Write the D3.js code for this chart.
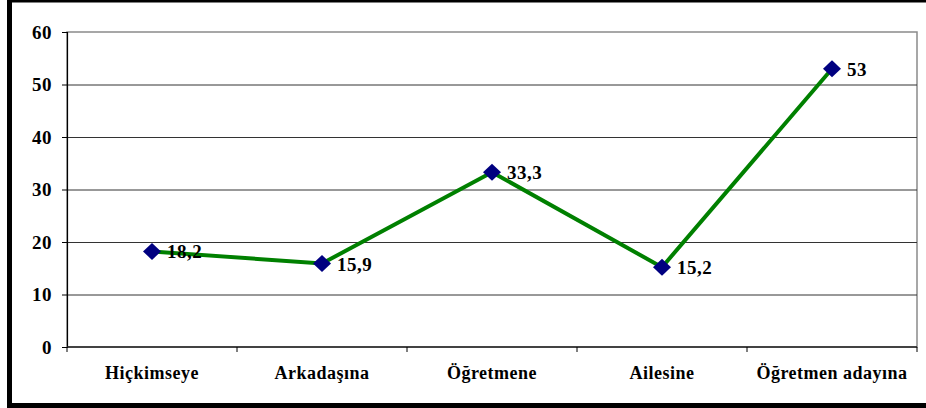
<!DOCTYPE html>
<html lang="tr">
<head>
  <meta charset="UTF-8">
  <title>Line Chart</title>
  <script src="https://d3js.org/d3.v7.min.js"></script>
  <style>
    body { margin: 0; background: #fff; }
    text { font-family: "Liberation Serif", "Times New Roman", serif; font-weight: bold; fill: #000; }
  </style>
</head>
<body>
<script>
// chart data
var categories = ["Hiçkimseye", "Arkadaşına", "Öğretmene", "Ailesine", "Öğretmen adayına"];
var values = [18.2, 15.9, 33.3, 15.2, 53];
var valueLabels = ["18,2", "15,9", "33,3", "15,2", "53"];
var yTicks = [0, 10, 20, 30, 40, 50, 60];

var W = 926, H = 408;
var plot = {left: 67, right: 917, top: 32, bottom: 347};

var svg = d3.select("body").append("svg")
  .attr("width", W)
  .attr("height", H);

// outer black frame
svg.append("rect")
  .attr("x", 9.5).attr("y", 0)
  .attr("width", W + 20).attr("height", 405.5)
  .attr("fill", "none")
  .attr("stroke", "#000")
  .attr("stroke-width", 5);

var x = d3.scaleBand().domain(categories).range([plot.left, plot.right]);
var xPoint = function(d) { return x(d) + x.bandwidth() / 2; };
var y = d3.scaleLinear().domain([0, 60]).range([plot.bottom, plot.top]);

// plot area border
svg.append("rect")
  .attr("x", plot.left).attr("y", plot.top)
  .attr("width", plot.right - plot.left)
  .attr("height", plot.bottom - plot.top)
  .attr("fill", "none")
  .attr("stroke", "#8a8a8a")
  .attr("stroke-width", 1.5);

// gridlines
svg.append("g").selectAll("line")
  .data(yTicks.filter(function(t) { return t > 0 && t < 60; }))
  .enter().append("line")
  .attr("x1", plot.left).attr("x2", plot.right)
  .attr("y1", function(d) { return y(d) + 0.5; })
  .attr("y2", function(d) { return y(d) + 0.5; })
  .attr("stroke", "#333")
  .attr("stroke-width", 1);

// y axis
var yAxis = svg.append("g")
  .attr("transform", "translate(" + plot.left + ",0)")
  .call(d3.axisLeft(y).tickValues(yTicks).tickSize(5).tickPadding(10));
yAxis.select(".domain").attr("stroke", "#000").attr("stroke-width", 1.2);
yAxis.selectAll(".tick line").attr("stroke", "#000");
yAxis.selectAll("text")
  .style("font-size", "19px")
  .style("font-family", "Liberation Serif, serif")
  .style("font-weight", "bold")
  .style("letter-spacing", "0.5px")
  .attr("fill", "#000");

// x axis with ticks at category boundaries
var xAxis = svg.append("g")
  .attr("transform", "translate(0," + plot.bottom + ")");
xAxis.append("line")
  .attr("x1", plot.left).attr("x2", plot.right)
  .attr("y1", 0).attr("y2", 0)
  .attr("stroke", "#222").attr("stroke-width", 1.5);
var bounds = categories.map(function(c) { return x(c); }).concat([plot.right]);
xAxis.selectAll(".xtick")
  .data(bounds)
  .enter().append("line")
  .attr("class", "xtick")
  .attr("x1", function(d) { return d; }).attr("x2", function(d) { return d; })
  .attr("y1", 0).attr("y2", 5)
  .attr("stroke", "#000");
xAxis.selectAll(".xlabel")
  .data(categories)
  .enter().append("text")
  .attr("class", "xlabel")
  .attr("x", xPoint)
  .attr("y", 32)
  .attr("text-anchor", "middle")
  .style("font-size", "18px")
  .style("letter-spacing", "0.5px")
  .text(function(d) { return d; });

// line
var pts = categories.map(function(c, i) { return {c: c, v: values[i], label: valueLabels[i]}; });
var line = d3.line()
  .x(function(d) { return xPoint(d.c); })
  .y(function(d) { return y(d.v); });

svg.append("path")
  .datum(pts)
  .attr("d", line)
  .attr("fill", "none")
  .attr("stroke", "#008000")
  .attr("stroke-width", 4);

// diamond markers
svg.selectAll(".marker")
  .data(pts)
  .enter().append("path")
  .attr("class", "marker")
  .attr("d", "M0,-8.5L9,0L0,8.5L-9,0Z")
  .attr("transform", function(d) { return "translate(" + xPoint(d.c) + "," + y(d.v) + ")"; })
  .attr("fill", "#000080");

// value labels
svg.selectAll(".vlabel")
  .data(pts)
  .enter().append("text")
  .attr("class", "vlabel")
  .attr("x", function(d) { return xPoint(d.c) + 15; })
  .attr("y", function(d) { return y(d.v) + 7; })
  .style("font-size", "19px")
  .style("letter-spacing", "0.5px")
  .text(function(d) { return d.label; });
</script>
</body>
</html>
